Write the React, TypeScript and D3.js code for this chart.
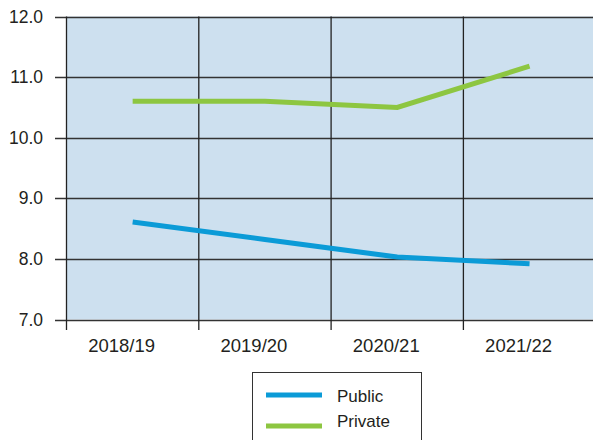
import React from "react";
import * as d3 from "d3";

const categories = ["2018/19", "2019/20", "2020/21", "2021/22"];
const publicValues = [8.61, 8.32, 8.03, 7.92];
const privateValues = [10.6, 10.6, 10.5, 11.18];
const yTicks = [7, 8, 9, 10, 11, 12];
const seriesNames = ["Public", "Private"];
const seriesColors = ["#0b9bd7", "#8dc641"];

const W = 593;
const H = 440;
const left = 66.5;
const top = 16.5;
const bottom = 319.5;
const bandW = 132.3;

export default function App() {
  const x = d3
    .scaleBand<string>()
    .domain(categories)
    .range([left, left + bandW * categories.length])
    .paddingInner(0)
    .paddingOuter(0);
  const y = d3.scaleLinear().domain([7, 12]).range([bottom, top]);
  const cx = (c: string) => (x(c) as number) + x.bandwidth() / 2;

  const line = d3
    .line<number>()
    .x((_, i) => cx(categories[i]))
    .y((v) => y(v));

  const series = [publicValues, privateValues];
  const font = "'Liberation Sans', Arial, Helvetica, sans-serif";

  return (
    <svg
      width={W}
      height={H}
      style={{ position: "absolute", left: 0, top: 0, background: "#fff" }}
    >
      <rect
        x={left}
        y={top}
        width={W - left + 5}
        height={bottom - top}
        fill="#cde0ef"
      />
      {yTicks.map((t) => (
        <g key={t}>
          <line
            x1={55}
            x2={W + 5}
            y1={Math.round(y(t)) + 0.5}
            y2={Math.round(y(t)) + 0.5}
            stroke="#333"
            strokeWidth={1.3}
          />
          <text
            x={43}
            y={y(t)}
            textAnchor="end"
            dominantBaseline="central"
            fontFamily={font}
            fontSize={17.5}
            fill="#231f20"
          >
            {t.toFixed(1)}
          </text>
        </g>
      ))}
      {categories.map((c) => (
        <g key={c}>
          <line
            x1={x(c) as number}
            x2={x(c) as number}
            y1={top}
            y2={330}
            stroke="#222"
            strokeWidth={1.3}
          />
          <text
            x={cx(c) - 11}
            y={352}
            textAnchor="middle"
            fontFamily={font}
            fontSize={18.5}
            fill="#231f20"
          >
            {c}
          </text>
        </g>
      ))}
      {series.map((s, i) => (
        <path
          key={i}
          d={line(s) || ""}
          fill="none"
          stroke={seriesColors[i]}
          strokeWidth={5}
          strokeLinejoin="miter"
        />
      ))}
      <rect
        x={252.5}
        y={372.5}
        width={169}
        height={80}
        fill="#fff"
        stroke="#333"
        strokeWidth={1}
      />
      {seriesNames.map((n, i) => (
        <g key={n}>
          <line
            x1={266}
            x2={322}
            y1={395 + i * 31}
            y2={395 + i * 31}
            stroke={seriesColors[i]}
            strokeWidth={5}
          />
          <text
            x={337}
            y={402 + i * 25}
            fontFamily={font}
            fontSize={17}
            fill="#231f20"
          >
            {n}
          </text>
        </g>
      ))}
    </svg>
  );
}
